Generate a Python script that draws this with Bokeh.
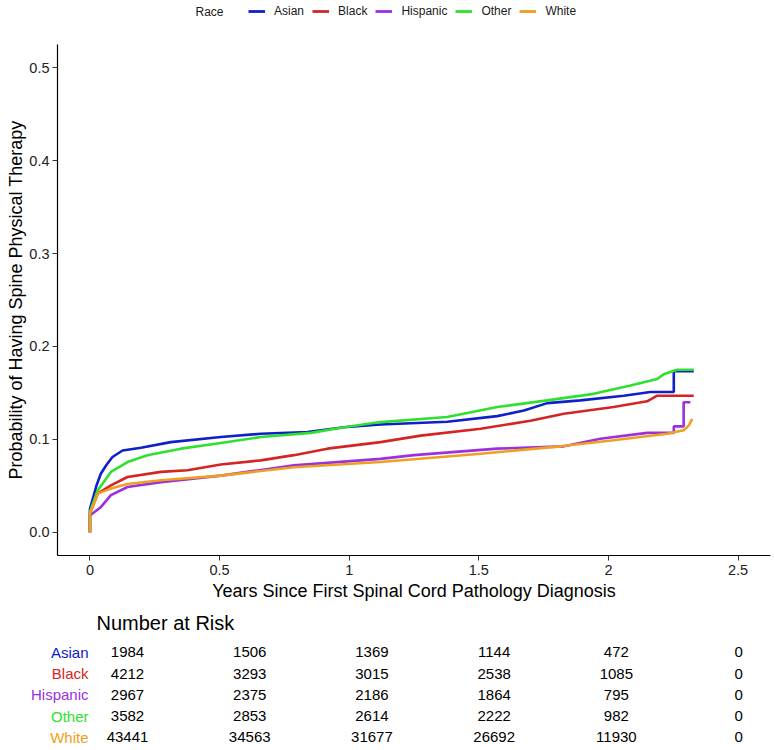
from bokeh.plotting import figure
from bokeh.models import Range1d, Legend, LegendItem, Label, FixedTicker, CustomJSTickFormatter
from bokeh.layouts import column
from bokeh.core.properties import value
from bokeh.embed import file_html
from bokeh.resources import INLINE

FONT = "Liberation Sans"

groups = ["Asian", "Black", "Hispanic", "Other", "White"]
colors = ["#1020C8", "#D42525", "#9B30E0", "#30E030", "#F0A020"]

asian_x = [0, 0, 0.01, 0.025, 0.042, 0.065, 0.087, 0.126, 0.197, 0.312, 0.505, 0.659, 0.839, 0.98, 1.121, 1.378, 1.571, 1.674, 1.764, 1.892, 2.059, 2.162, 2.252, 2.252, 2.329]
asian_y = [0, 0.025, 0.035, 0.05, 0.063, 0.073, 0.081, 0.088, 0.091, 0.097, 0.1025, 0.106, 0.108, 0.113, 0.116, 0.119, 0.125, 0.131, 0.139, 0.142, 0.147, 0.151, 0.151, 0.1735, 0.1735]

black_x = [0, 0, 0.03, 0.081, 0.145, 0.274, 0.376, 0.505, 0.659, 0.787, 0.916, 1.121, 1.276, 1.507, 1.699, 1.828, 2.02, 2.149, 2.188, 2.329]
black_y = [0, 0.02, 0.0416, 0.0505, 0.0595, 0.065, 0.0667, 0.073, 0.0774, 0.083, 0.09, 0.097, 0.104, 0.1115, 0.12, 0.1276, 0.1348, 0.141, 0.147, 0.147]

hispanic_x = [0, 0, 0.042, 0.081, 0.145, 0.274, 0.505, 0.787, 1.121, 1.25, 1.571, 1.828, 1.969, 2.149, 2.252, 2.252, 2.29, 2.29, 2.316]
hispanic_y = [0, 0.018, 0.027, 0.04, 0.0487, 0.054, 0.061, 0.072, 0.079, 0.083, 0.09, 0.0925, 0.1007, 0.107, 0.107, 0.114, 0.114, 0.14, 0.14]

other_x = [0, 0, 0.03, 0.081, 0.145, 0.222, 0.351, 0.505, 0.659, 0.852, 0.98, 1.121, 1.378, 1.571, 1.764, 1.943, 2.085, 2.188, 2.213, 2.265, 2.329]
other_y = [0, 0.022, 0.045, 0.065, 0.0756, 0.083, 0.09, 0.096, 0.1025, 0.107, 0.113, 0.1186, 0.124, 0.1348, 0.142, 0.149, 0.158, 0.165, 0.17, 0.175, 0.175]

white_x = [0, 0, 0.03, 0.081, 0.145, 0.274, 0.505, 0.787, 1.121, 1.507, 1.815, 2.02, 2.226, 2.29, 2.31, 2.323]
white_y = [0, 0.02, 0.0416, 0.047, 0.052, 0.056, 0.061, 0.070, 0.0756, 0.0846, 0.0925, 0.099, 0.106, 0.1097, 0.115, 0.122]

risk_times = [0, 0.5, 1, 1.5, 2, 2.5]
risk_asian = [1984, 1506, 1369, 1144, 472, 0]
risk_black = [4212, 3293, 3015, 2538, 1085, 0]
risk_hispanic = [2967, 2375, 2186, 1864, 795, 0]
risk_other = [3582, 2853, 2614, 2222, 982, 0]
risk_white = [43441, 34563, 31677, 26692, 11930, 0]

x_ticks = [0, 0.5, 1, 1.5, 2, 2.5]
y_ticks = [0.0, 0.1, 0.2, 0.3, 0.4, 0.5]

series_x = [asian_x, black_x, hispanic_x, other_x, white_x]
series_y = [asian_y, black_y, hispanic_y, other_y, white_y]
risks = [risk_asian, risk_black, risk_hispanic, risk_other, risk_white]

# ---- legend strip (series drawn out of view; only the legend keys show) ----
lg = figure(width=775, height=22, output_backend="svg", toolbar_location=None,
            x_range=Range1d(0, 1), y_range=Range1d(5, 6), min_border=0)
lg.frame_align = False
lg.outline_line_color = None
lg.xaxis.visible = False
lg.yaxis.visible = False
lg.xgrid.visible = False
lg.ygrid.visible = False
key_renderers = [lg.line(xs, ys, line_color=c, line_width=2.8)
                 for xs, ys, c in zip(series_x, series_y, colors)]
legend = Legend(items=[LegendItem(label=g, renderers=[r]) for g, r in zip(groups, key_renderers)],
                orientation="horizontal", location=(248, 3),
                glyph_width=17, glyph_height=16, label_standoff=9, spacing=8,
                padding=0, margin=0, border_line_color=None, background_fill_alpha=0,
                label_text_font=FONT, label_text_font_size="12px", label_height=16,
                label_width=10, label_text_color="#1a1a1a")
lg.add_layout(legend, "center")
lg.add_layout(Label(x=195, y=11, x_units="screen", y_units="screen", text="Race",
                    text_font=FONT, text_font_size="12px", text_baseline="middle",
                    text_color="#1a1a1a"))

# ---- main plot ----
p = figure(width=775, height=588, output_backend="svg", toolbar_location=None,
           x_range=Range1d(-0.125, 2.625), y_range=Range1d(-0.025, 0.525),
           min_border_left=57, min_border_right=5, min_border_top=22, min_border_bottom=55)
p.frame_align = False
p.outline_line_color = None
p.xgrid.visible = False
p.ygrid.visible = False

for xs, ys, c in zip(series_x, series_y, colors):
    p.line(xs, ys, line_color=c, line_width=2.6)

p.xaxis.ticker = FixedTicker(ticks=x_ticks)
p.yaxis.ticker = FixedTicker(ticks=y_ticks)
p.xaxis.formatter = CustomJSTickFormatter(code="return String(tick);")
p.yaxis.formatter = CustomJSTickFormatter(code="return tick.toFixed(1);")
for ax in (p.xaxis[0], p.yaxis[0]):
    ax.axis_line_color = "black"
    ax.axis_line_width = 1.2
    ax.major_tick_line_color = "#333333"
    ax.major_tick_out = 5
    ax.major_tick_in = 0
    ax.minor_tick_line_color = None
    ax.major_label_text_font = FONT
    ax.major_label_text_font_size = "14.5px"
    ax.major_label_text_color = "#222222"
    ax.axis_label_text_font = FONT
    ax.axis_label_text_font_size = "18px"
    ax.axis_label_text_font_style = "normal"
    ax.axis_label_text_color = "black"
p.xaxis.axis_label = "Years Since First Spinal Cord Pathology Diagnosis"
p.yaxis.axis_label = "Probability of Having Spine Physical Therapy"
p.xaxis.major_label_standoff = 4
p.yaxis.major_label_standoff = 3
p.xaxis.axis_label_standoff = 3
p.yaxis.axis_label_standoff = 0

# ---- risk table ----
t = figure(width=775, height=140, output_backend="svg", toolbar_location=None,
           x_range=Range1d(-0.5196, 2.651), y_range=Range1d(4.612, -1.976),
           min_border=0)
t.frame_align = False
t.outline_line_color = None
t.xaxis.visible = False
t.yaxis.visible = False
t.xgrid.visible = False
t.ygrid.visible = False

for i, (g, c, rv) in enumerate(zip(groups, colors, risks)):
    t.text(x=risk_times, y=[i] * len(risk_times), text=[str(v) for v in rv],
           text_align="center", text_baseline="middle", text_font=value(FONT),
           text_font_size="15px", text_color="black")
    t.text(x=[0], y=[i], text=[g], x_offset=-39, text_align="right",
           text_baseline="middle", text_font=value(FONT), text_font_size="15px",
           text_color=c)

t.add_layout(Label(x=96, y=128, x_units="screen", y_units="screen", text="Number at Risk",
                   text_font=FONT, text_font_size="20px", text_baseline="middle",
                   text_color="black"))

layout = column(lg, p, t, spacing=0)
open("out.html", "w").write(file_html(layout, INLINE))
